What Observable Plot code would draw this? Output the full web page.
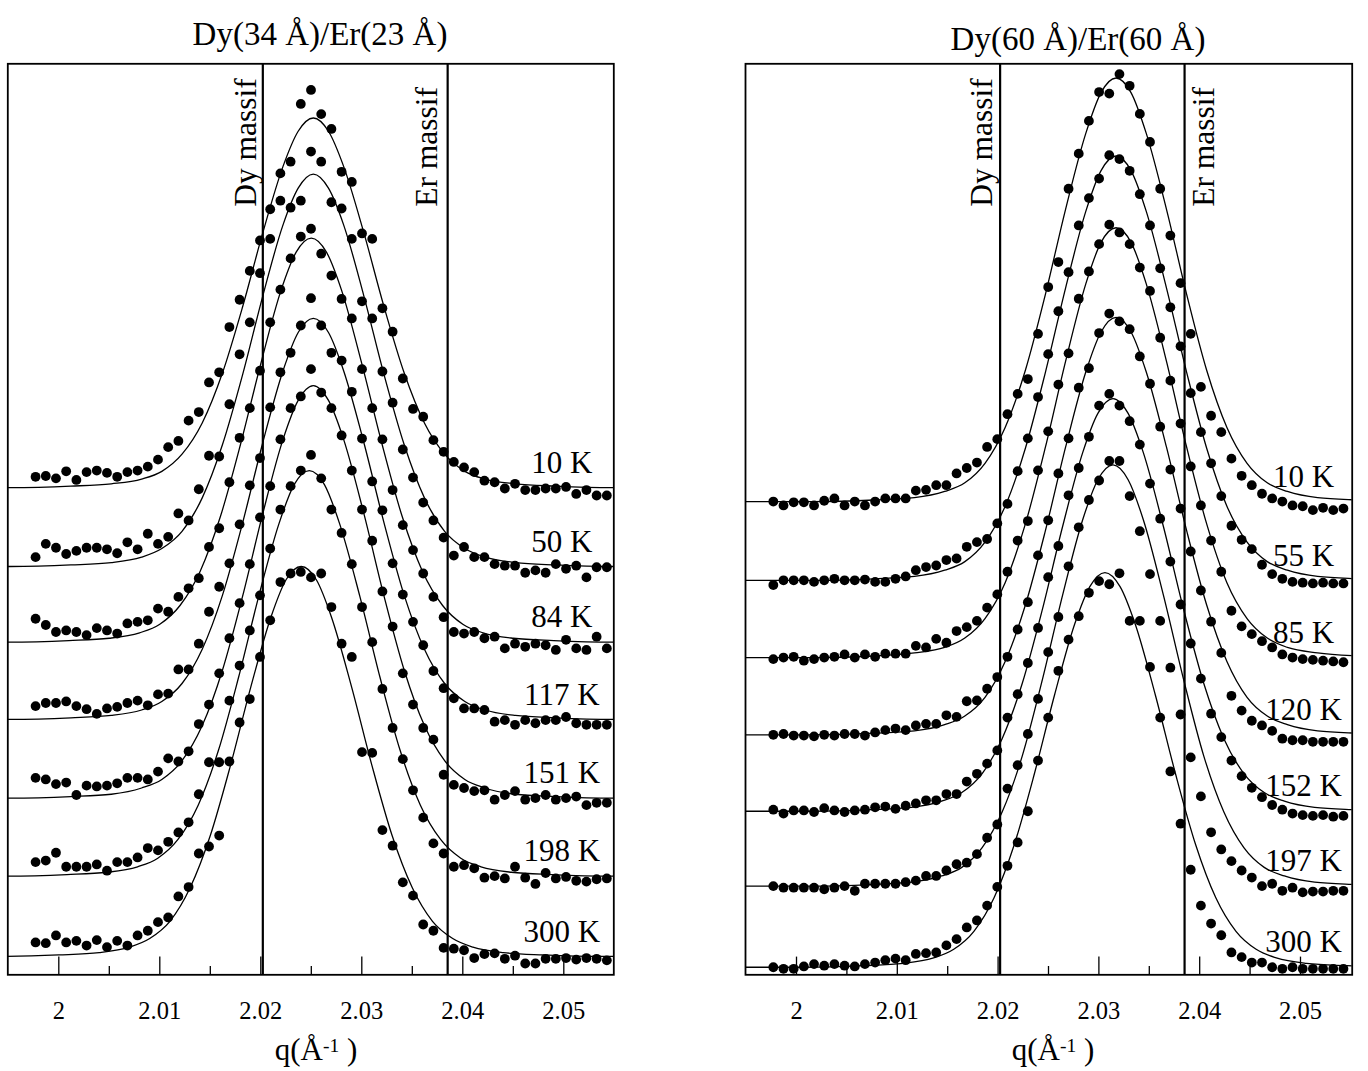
<!DOCTYPE html>
<html><head><meta charset="utf-8">
<script src="https://cdn.jsdelivr.net/npm/d3@7"></script>
<script src="https://cdn.jsdelivr.net/npm/@observablehq/plot@0.6"></script>
<style>
body{margin:0;background:#fff;}
#wrap{position:relative;width:1368px;height:1071px;overflow:hidden;background:#fff;font-family:"Liberation Serif","Times New Roman",serif;color:#000;}
#wrap svg{position:absolute;top:0;}
.lbl{position:absolute;white-space:nowrap;transform:translateX(-50%);}
.sup{font-size:0.63em;position:relative;top:-0.42em;}
</style></head>
<body><div id="wrap"></div>
<script>
// ---------------- data ----------------
const titles = ["Dy(34 Å)/Er(23 Å)", "Dy(60 Å)/Er(60 Å)"];
const majorTicks = [2, 2.01, 2.02, 2.03, 2.04, 2.05];
const minorTicks = [2.005, 2.015, 2.025, 2.035, 2.045];
const massifQ = [2.0202, 2.0385]; // Dy massif, Er massif

// measurement grid (q, Å^-1)
const qGrid = [1.9977,1.99871,1.99972,2.00073,2.00174,2.00275,2.00376,2.00477,2.00578,2.00679,2.0078,2.00881,2.00982,2.01083,2.01184,2.01285,2.01386,2.01487,2.01588,2.01689,2.0179,2.01891,2.01992,2.02093,2.02194,2.02295,2.02396,2.02497,2.02598,2.02699,2.028,2.02901,2.03002,2.03103,2.03204,2.03305,2.03406,2.03507,2.03608,2.03709,2.0381,2.03911,2.04012,2.04113,2.04214,2.04315,2.04416,2.04517,2.04618,2.04719,2.0482,2.04921,2.05022,2.05123,2.05224,2.05325,2.05426];

// left panel: Dy(34 Å)/Er(23 Å)
const tempsL = ["10 K","50 K","84 K","117 K","151 K","198 K","300 K"];
const offsetsL = [601, 500, 403, 304, 203, 103, 0];
const dotsL = [
 [14,15,12,21,10,20,22,19,14,20,22,27,36,52,60,86,97,135,148,206,241,278,317,357,403,418,492,510,479,460,405,392,326,319,230,200,140,101,91,61,46,33,26,20,9,7,-1,5,-3,-3,-1,-1,1,-8,-3,-10,-10],
 [12,29,24,16,20,24,24,22,17,31,22,42,29,38,68,59,99,142,141,208,272,313,376,420,469,460,469,532,519,467,459,420,340,318,250,210,150,114,82,59,37,14,25,12,12,3,1,1,-8,-5,-8,3,-3,1,-14,-1,-1],
 [30,22,13,15,13,9,18,15,11,24,26,28,43,39,58,69,82,122,146,205,262,300,348,410,452,492,520,530,498,470,440,415,350,300,260,195,150,118,88,58,32,13,11,13,5,7,-8,-2,-6,-2,-4,-10,3,-8,-10,7,-8],
 [17,21,21,23,17,13,7,14,16,21,24,18,32,33,64,64,97,138,170,200,250,300,335,400,445,470,505,540,505,470,460,420,360,305,268,200,160,125,95,62,40,27,14,14,12,-3,-1,-7,-1,-5,-1,-1,3,-5,-7,-7,-7],
 [26,24,18,20,4,16,15,16,19,26,26,24,34,51,47,60,95,120,160,205,250,300,360,400,460,500,515,550,520,500,465,420,370,330,265,220,160,120,90,75,30,17,13,9,10,-2,4,9,-2,0,4,-2,0,2,-9,-6,-6],
 [18,20,30,12,12,12,15,7,18,18,24,36,33,44,56,69,105,146,146,225,270,315,360,420,470,500,520,540,510,470,440,400,345,300,240,190,150,110,75,42,29,12,14,10,-2,0,-3,12,-2,-10,4,-3,-1,-6,-7,-4,-3],
 [18,17,27,18,20,14,21,12,20,14,27,33,44,50,77,89,132,141,155,250,300,330,384,431,480,491,493,486,491,448,401,384,262,261,162,142,95,78,41,33,11,10,8,-2,3,4,-3,1,-9,-9,-3,-3,-2,-4,-2,-3,-5]
];
const fitQ2252 = [1.9882,1.9952,2.0012,2.0052,2.0082,2.0102,2.0122,2.0142,2.0162,2.0182,2.0202,2.0222,2.0237,2.0252,2.0267,2.0282,2.0302,2.0322,2.0342,2.0362,2.0382,2.0402,2.0422,2.0452,2.0492,2.0552,2.0622];
const fitQ2250 = [1.988,1.995,2.001,2.005,2.008,2.010,2.012,2.014,2.016,2.018,2.020,2.022,2.0235,2.025,2.0265,2.028,2.030,2.032,2.034,2.036,2.038,2.040,2.042,2.045,2.049,2.055,2.062];
const fitQ2248 = [1.9878,1.9948,2.0008,2.0048,2.0078,2.0098,2.0118,2.0138,2.0158,2.0178,2.0198,2.0218,2.0233,2.0248,2.0263,2.0278,2.0298,2.0318,2.0338,2.0358,2.0378,2.0398,2.0418,2.0448,2.0488,2.0548,2.0618];
const fitQ2240 = [1.987,1.994,2.000,2.004,2.007,2.009,2.011,2.013,2.015,2.017,2.019,2.021,2.0225,2.024,2.0255,2.027,2.029,2.031,2.033,2.035,2.037,2.039,2.041,2.044,2.048,2.054,2.061];
const fitQL = [fitQ2252, fitQ2252, fitQ2250, fitQ2252, fitQ2252, fitQ2248, fitQ2240];
const fitIL = [
 [0,0,2,5,11,21,43,83,147,232,327,412,457,474,457,412,327,232,147,83,43,21,11,5,2,0,0],
 [0,0,2,5,12,23,45,88,156,246,347,438,485,503,485,438,347,246,156,88,45,23,12,5,2,0,0],
 [0,0,2,5,12,23,47,91,161,254,357,451,500,518,500,451,357,254,161,91,47,23,12,5,2,0,0],
 [0,0,2,5,12,23,46,90,159,252,355,447,496,514,496,447,355,252,159,90,46,23,12,5,2,0,0],
 [0,0,2,5,13,24,48,93,164,259,365,460,510,529,510,460,365,259,164,93,48,24,13,5,2,0,0],
 [0,0,2,5,12,23,47,91,161,255,359,452,502,520,502,452,359,255,161,91,47,23,12,5,2,0,0],
 [0,0,2,5,12,23,45,88,155,245,345,435,483,500,483,435,345,245,155,88,45,23,12,5,2,0,0]
];

// right panel: Dy(60 Å)/Er(60 Å)
const tempsR = ["10 K","55 K","85 K","120 K","152 K","197 K","300 K"];
const offsetsR = [597, 496, 397, 298, 200, 104, 0];
const dotsR = [
 [0,-5,-1,-1,-5,1,4,-5,0,-5,0,4,4,4,14,15,21,21,36,43,50,70,80,112,138,157,215,275,307,401,446,488,525,523,548,533,497,461,401,341,280,215,147,110,89,55,33,21,10,4,0,-5,-6,-11,-8,-11,-9],
 [-6,0,0,0,-2,0,2,0,0,1,-2,-2,2,5,13,17,19,26,28,43,49,53,73,98,140,182,235,290,345,395,455,490,515,545,540,525,495,455,400,350,300,240,190,150,108,70,52,40,20,8,2,-2,-3,-4,-3,-4,-4],
 [-2,0,1,-4,-2,0,1,4,0,4,1,5,5,5,15,13,24,19,34,39,47,64,81,110,150,175,240,290,350,390,460,495,530,555,545,530,500,470,410,355,300,245,195,150,110,60,40,30,21,13,4,0,-2,-3,-4,-5,-6],
 [0,1,-1,-1,-2,0,-1,1,1,-1,3,6,8,6,12,14,14,25,23,43,44,59,74,100,135,170,230,275,335,380,445,470,515,540,530,520,485,450,395,340,290,235,185,145,105,50,31,18,12,5,-5,-7,-7,-9,-9,-9,-9],
 [2,-3,1,1,-1,4,1,-1,1,2,5,6,3,7,10,14,14,22,22,38,48,61,78,120,150,190,235,300,340,405,440,480,520,535,520,500,470,420,375,320,265,215,170,125,95,65,45,30,18,8,2,-3,-5,-6,-5,-7,-6],
 [0,-2,-2,-2,-2,-4,-2,0,-6,3,3,3,3,5,7,13,13,20,28,30,41,62,79,125,155,195,240,300,345,410,460,495,520,545,545,500,455,400,340,280,220,165,115,69,47,32,20,11,0,3,-6,-2,-8,-7,-7,-6,-6],
 [0,-2,-2,1,4,2,4,2,1,4,6,9,11,9,17,18,19,28,36,51,60,79,103,130,160,200,265,320,380,420,450,480,495,491,505,444,444,385,320,251,184,125,79,56,41,19,13,6,6,0,-2,0,-2,-2,-2,-2,-2]
];
const fitQ2317 = [1.9947,2.0017,2.0077,2.0117,2.0147,2.0167,2.0187,2.0207,2.0227,2.0247,2.0267,2.0287,2.0302,2.0317,2.0332,2.0347,2.0367,2.0387,2.0407,2.0427,2.0447,2.0467,2.0487,2.0517,2.0557,2.0617,2.0687];
const fitQ2314 = [1.9944,2.0014,2.0074,2.0114,2.0144,2.0164,2.0184,2.0204,2.0224,2.0244,2.0264,2.0284,2.0299,2.0314,2.0329,2.0344,2.0364,2.0384,2.0404,2.0424,2.0444,2.0464,2.0484,2.0514,2.0554,2.0614,2.0684];
const fitQ2306 = [1.9936,2.0006,2.0066,2.0106,2.0136,2.0156,2.0176,2.0196,2.0216,2.0236,2.0256,2.0276,2.0291,2.0306,2.0321,2.0336,2.0356,2.0376,2.0396,2.0416,2.0436,2.0456,2.0476,2.0506,2.0546,2.0606,2.0676];
const fitQR = [fitQ2317, fitQ2317, fitQ2317, fitQ2317, fitQ2314, fitQ2314, fitQ2306];
const fitIR = [
 [0,0,2,5,13,24,49,95,168,266,375,472,524,543,524,472,375,266,168,95,49,24,13,5,2,0,0],
 [0,0,2,5,13,24,49,95,169,267,375,473,525,544,525,473,375,267,169,95,49,24,13,5,2,0,0],
 [0,0,2,6,13,25,50,96,171,270,380,479,532,551,532,479,380,270,171,96,50,25,13,6,2,0,0],
 [0,0,2,5,13,24,48,94,166,262,369,465,516,535,516,465,369,262,166,94,48,24,13,5,2,0,0],
 [0,0,2,5,13,24,48,93,164,259,365,460,510,529,510,460,365,259,164,93,48,24,13,5,2,0,0],
 [0,0,2,5,13,24,49,95,167,265,373,470,521,540,521,470,373,265,167,95,49,24,13,5,2,0,0],
 [0,0,2,5,12,23,46,89,157,248,349,440,488,506,488,440,349,248,157,89,46,23,12,5,2,0,0]
];

// ---------------- drawing ----------------
const SERIF = "'Liberation Serif','Times New Roman',Times,serif";
const H = 1071, MT = 63.3, MB = 96.7;
const innerH = H - MT - MB;
const wrap = document.getElementById("wrap");

function rows(offsets, dots, fitQ, fitI) {
  const dotRows = [], fitRows = [];
  offsets.forEach((off, s) => {
    dots[s].forEach((v, i) => dotRows.push({q: qGrid[i], v: off + v, s}));
    fitQ[s].forEach((q, i) => fitRows.push({q, v: off + fitI[s][i], s}));
  });
  return {dotRows, fitRows};
}

function panel(cfg) {
  const {dotRows, fitRows} = rows(cfg.offsets, cfg.dots, cfg.fitQ, cfg.fitI);
  const massifText = (label, q, dx) => Plot.text([label], {
    x: () => q, frameAnchor: "top", dy: 143, dx, rotate: -90,
    textAnchor: "start", lineAnchor: "bottom", fontSize: 31.5, fill: "black"
  });
  const svg = Plot.plot({
    width: cfg.width, height: H,
    marginLeft: cfg.ml, marginRight: cfg.mr, marginTop: MT, marginBottom: MB,
    x: {domain: cfg.xDomain},
    y: {domain: cfg.yDomain, axis: null},
    style: {fontFamily: SERIF, background: "transparent", color: "black", overflow: "visible"},
    marks: [
      Plot.ruleX(majorTicks, {x: d => d, insetTop: innerH - 17.7, stroke: "black", strokeWidth: 1.3}),
      Plot.ruleX(minorTicks, {x: d => d, insetTop: innerH - 8.3, stroke: "black", strokeWidth: 1.3}),
      Plot.ruleX(massifQ, {x: d => d, stroke: "black", strokeWidth: 2.2}),
      Plot.line(fitRows, {x: "q", y: "v", z: "s", curve: "monotone-x", stroke: "black", strokeWidth: 1.3, clip: true}),
      Plot.dot(dotRows, {x: "q", y: "v", r: 4.9, fill: "black", stroke: "none"}),
      Plot.text(cfg.temps, {x: () => cfg.labelQ, y: (d, i) => cfg.offsets[i] + 19,
        textAnchor: "middle", lineAnchor: "bottom", fontSize: 31, fill: "black"}),
      massifText("Dy massif", massifQ[0], cfg.dyDx),
      massifText("Er massif", massifQ[1], cfg.erDx),
      Plot.axisX({ticks: majorTicks, tickSize: 0, tickPadding: 26.5, fontSize: 24.5, label: null,
        tickFormat: d => String(+d.toFixed(2))}),
      Plot.frame({stroke: "black", strokeWidth: 1.8})
    ]
  });
  svg.style.left = cfg.left + "px";
  wrap.appendChild(svg);
}

panel({left: 0, width: 684, ml: 7.3, mr: 70.7, xDomain: [1.99495, 2.05495], yDomain: [-23.5, 1144.5],
  temps: tempsL, offsets: offsetsL, dots: dotsL, fitQ: fitQL, fitI: fitIL, labelQ: 2.0498, dyDx: -6.5, erDx: -10.7});
panel({left: 684, width: 684, ml: 61, mr: 16.3, xDomain: [1.99494, 2.05513], yDomain: [-9.7, 1158.2],
  temps: tempsR, offsets: offsetsR, dots: dotsR, fitQ: fitQR, fitI: fitIR, labelQ: 2.0503, dyDx: -8, erDx: 29});

// titles and axis labels (HTML text)
function addLabel(html, cx, baseline, fs) {
  const d = document.createElement("div");
  d.className = "lbl";
  d.style.fontSize = fs + "px";
  d.style.lineHeight = fs + "px";
  d.style.left = cx + "px";
  d.style.top = (baseline - 0.8375 * fs) + "px";
  d.innerHTML = html;
  wrap.appendChild(d);
}
addLabel(titles[0], 320, 46, 33);
addLabel(titles[1], 1078, 51, 33);
const xLabel = 'q(Å<span class="sup">-1</span> )';
addLabel(xLabel, 316, 1060, 31);
addLabel(xLabel, 1053, 1060, 31);
</script>
</body></html>
